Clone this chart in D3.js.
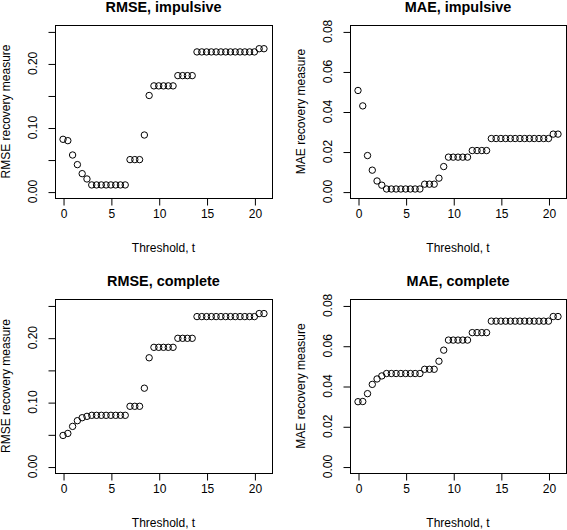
<!DOCTYPE html>
<html>
<head>
<meta charset="utf-8">
<script src="https://cdn.jsdelivr.net/npm/d3@7"></script>
<style>
  html, body { margin: 0; padding: 0; background: #fff; }
  svg { display: block; }
  text { font-family: "Liberation Sans", Arial, Helvetica, sans-serif; fill: #000; }
</style>
</head>
<body>
<svg id="chart" width="567" height="530"></svg>
<script>
// ---- data ----
const thresholds = [0,0.5,1,1.5,2,2.5,3,3.5,4,4.5,5,5.5,6,6.5,7,7.5,8,8.5,9,9.5,10,10.5,11,11.5,12,12.5,13,13.5,14,14.5,15,15.5,16,16.5,17,17.5,18,18.5,19,19.5,20,20.5,21];

const rmseImpulsive = [0.0816,0.0795,0.0571,0.0421,0.0280,0.0197,
  0.0104,0.0104,0.0104,0.0104,0.0104,0.0104,0.0104,0.0104,
  0.0499,0.0499,0.0499,0.0883,0.150,
  0.165,0.165,0.165,0.165,0.165,
  0.181,0.181,0.181,0.181,
  0.218,0.218,0.218,0.218,0.218,0.218,0.218,0.218,0.218,0.218,0.218,0.218,0.218,
  0.223,0.223];

const maeImpulsive = [0.0505,0.0428,0.0180,0.0107,0.0053,0.0032,
  0.0013,0.0013,0.0013,0.0013,0.0013,0.0013,0.0013,0.0013,
  0.0037,0.0037,0.0037,0.0067,0.0125,
  0.0172,0.0172,0.0172,0.0172,0.0172,
  0.0205,0.0205,0.0205,0.0205,
  0.0265,0.0265,0.0265,0.0265,0.0265,0.0265,0.0265,0.0265,0.0265,0.0265,0.0265,0.0265,0.0265,
  0.0287,0.0287];

const rmseComplete = [0.0483,0.0514,0.0623,0.0712,0.0758,0.0779,
  0.0795,0.0795,0.0795,0.0795,0.0795,0.0795,0.0795,0.0795,
  0.0935,0.0935,0.0935,0.1216,0.1688,
  0.185,0.185,0.185,0.185,0.185,
  0.199,0.199,0.199,0.199,
  0.2327,0.2327,0.2327,0.2327,0.2327,0.2327,0.2327,0.2327,0.2327,0.2327,0.2327,0.2327,0.2327,
  0.2374,0.2374];

const maeComplete = [0.0322,0.0323,0.0362,0.0408,0.0435,0.0450,
  0.0462,0.0462,0.0462,0.0462,0.0462,0.0462,0.0462,0.0462,
  0.0483,0.0483,0.0483,0.0523,0.0578,
  0.0628,0.0628,0.0628,0.0628,0.0628,
  0.0665,0.0665,0.0665,0.0665,
  0.0722,0.0722,0.0722,0.0722,0.0722,0.0722,0.0722,0.0722,0.0722,0.0722,0.0722,0.0722,0.0722,
  0.0745,0.0745];

const xTicks = [0,5,10,15,20];
const rmseTicks = [0,0.05,0.10,0.15,0.20,0.25];
const rmseTickLabels = [0,0.10,0.20];
const maeTicks = [0,0.02,0.04,0.06,0.08];
const maeTickLabels = [0,0.02,0.04,0.06,0.08];

const titles = ["RMSE, impulsive","MAE, impulsive","RMSE, complete","MAE, complete"];
const yTitles = ["RMSE recovery measure","MAE recovery measure","RMSE recovery measure","MAE recovery measure"];
const xTitle = "Threshold, t";

// ---- drawing ----
const svg = d3.select("#chart");

const panels = [
  {box:[55, 272, 25, 198],  vals: rmseImpulsive, ymax:0.25, ticks: rmseTicks, labs: rmseTickLabels},
  {box:[350, 566, 25, 198], vals: maeImpulsive,  ymax:0.08, ticks: maeTicks,  labs: maeTickLabels},
  {box:[55, 272, 299, 473], vals: rmseComplete,  ymax:0.25, ticks: rmseTicks, labs: rmseTickLabels},
  {box:[350, 566, 299, 473], vals: maeComplete,  ymax:0.08, ticks: maeTicks,  labs: maeTickLabels}
];

panels.forEach((p, i) => {
  const [L, R, T, B] = p.box;
  const xr = [0, 21], xpad = (xr[1]-xr[0])*0.04;
  const ypad = p.ymax*0.04;
  const x = d3.scaleLinear().domain([xr[0]-xpad, xr[1]+xpad]).range([L, R]);
  const y = d3.scaleLinear().domain([-ypad, p.ymax+ypad]).range([B, T]);
  const g = svg.append("g");

  // box
  g.append("rect").attr("x", L+0.5).attr("y", T+0.5).attr("width", R-L).attr("height", B-T)
    .attr("fill","none").attr("stroke","#000").attr("stroke-width",1);

  // x axis
  const xa = d3.axisBottom(x).tickValues(xTicks).tickSize(7).tickPadding(4).tickFormat(d3.format("d"));
  const gx = g.append("g").attr("transform", `translate(0.5,${B+0.5})`).call(xa);
  gx.select(".domain").attr("d", `M${x(xTicks[0])},0H${x(xTicks[xTicks.length-1])}`).attr("stroke","#000");
  gx.selectAll(".tick line").attr("stroke","#000");
  gx.selectAll(".tick text").attr("font-size", 12).attr("dy", "0.71em")
    .attr("font-family", '"Liberation Sans", Arial, sans-serif');

  // y axis
  const ya = d3.axisLeft(y).tickValues(p.ticks).tickSize(7).tickFormat("");
  const gy = g.append("g").attr("transform", `translate(${L+0.5},0.5)`).call(ya);
  gy.select(".domain").attr("d", `M0,${y(p.ticks[0])}V${y(p.ticks[p.ticks.length-1])}`).attr("stroke","#000");
  gy.selectAll(".tick line").attr("stroke","#000");
  g.selectAll(".ylab").data(p.labs).enter().append("text")
    .attr("class","ylab")
    .attr("transform", d => `translate(${L-22},${y(d)}) rotate(-90)`)
    .attr("text-anchor","middle").attr("dominant-baseline","central")
    .attr("font-size", 12)
    .text(d => d3.format(".2f")(d));

  // points
  g.selectAll("circle").data(thresholds.map((t, k) => [t, p.vals[k]])).enter().append("circle")
    .attr("cx", d => x(d[0])).attr("cy", d => y(d[1])).attr("r", 3.2)
    .attr("fill","none").attr("stroke","#000").attr("stroke-width",1);

  // titles
  g.append("text").attr("x", (L+R)/2).attr("y", T-18)
    .attr("text-anchor","middle").attr("dominant-baseline","central")
    .attr("font-size", 14.4).attr("font-weight","bold").text(titles[i]);
  g.append("text").attr("x", (L+R)/2).attr("y", B+50)
    .attr("text-anchor","middle").attr("dominant-baseline","central")
    .attr("font-size", 12).text(xTitle);
  g.append("text").attr("transform", `translate(${L-49},${(T+B)/2}) rotate(-90)`)
    .attr("text-anchor","middle").attr("dominant-baseline","central")
    .attr("font-size", 12).text(yTitles[i]);
});
</script>
</body>
</html>
